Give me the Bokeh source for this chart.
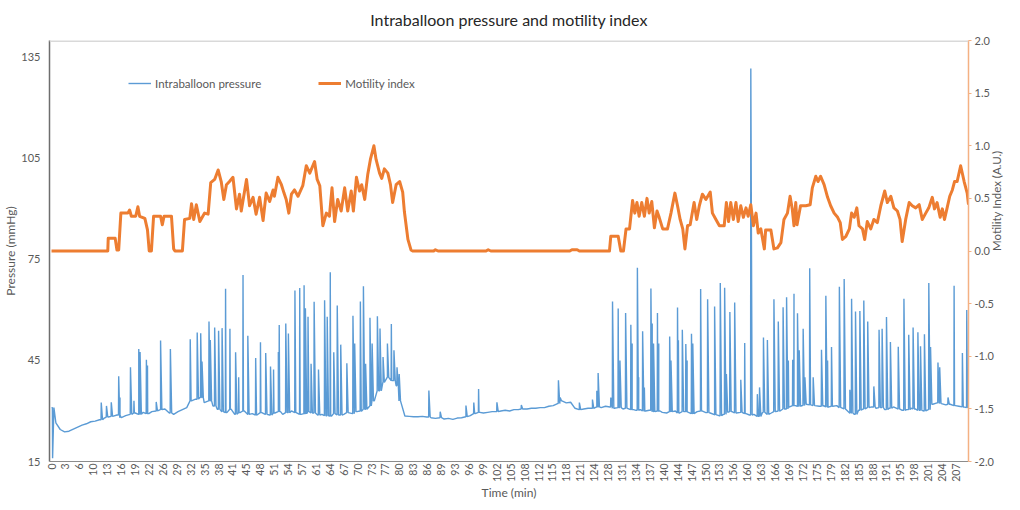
import math
from bokeh.plotting import figure
from bokeh.models import (Range1d, LinearAxis, FixedTicker, CustomJSTickFormatter,
                          NumeralTickFormatter, Span, Legend, LegendItem, ColumnDataSource)
from bokeh.embed import file_html
from bokeh.resources import INLINE

# ---------------- data ----------------
title_text = "Intraballoon pressure and motility index"

tick_labels = ["0", "3", "6", "10", "13", "16", "19", "22", "26", "29", "32", "35", "38", "41",
               "45", "48", "51", "54", "57", "61", "64", "67", "70", "73", "77", "80", "83", "86",
               "89", "93", "96", "99", "102", "105", "108", "112", "115", "118", "121", "124",
               "128", "131", "134", "137", "140", "144", "147", "150", "153", "156", "160", "163",
               "166", "169", "172", "175", "179", "182", "185", "188", "191", "195", "198", "201",
               "204", "207"]

# baseline pressure (mmHg), one value per minute, t = 0 .. 210
base_pressure = [
    31.0, 26.5, 24.5, 23.8, 24.0, 24.6, 25.2, 25.8, 26.2, 26.8,
    27.0, 27.4, 27.8, 28.2, 28.4, 28.8, 28.0, 28.6, 29.0, 29.4,
    29.0, 29.6, 29.2, 29.8, 30.0, 30.4, 30.6, 29.4, 29.0, 29.8,
    30.4, 31.0, 33.0, 33.5, 34.0, 32.5, 33.0, 31.5, 30.5, 29.8,
    29.5, 30.5, 29.0, 29.5, 30.0, 29.0, 29.2, 28.8, 29.5, 29.0,
    28.8, 29.4, 29.8, 29.0, 29.5, 30.0, 29.5, 29.0, 29.2, 29.8,
    29.4, 28.8, 29.0, 28.6, 28.5, 29.2, 28.8, 29.0, 29.5, 29.2,
    29.8, 30.0, 30.5, 31.5, 33.0, 36.0, 38.5, 40.0, 39.0, 37.5,
    33.0, 28.5, 28.4, 28.3, 28.3, 28.4, 28.2, 28.0, 27.8, 28.0,
    27.6, 27.8, 27.5, 27.9, 28.0, 28.3, 28.6, 29.2, 29.6, 29.4,
    29.6, 29.8, 29.8, 30.0, 30.2, 30.0, 30.4, 30.4, 30.6, 30.6,
    30.8, 30.8, 31.0, 31.0, 31.4, 31.6, 32.2, 33.0, 32.4, 32.6,
    30.8, 30.4, 30.6, 30.8, 30.8, 31.2, 31.0, 31.4, 31.2, 30.8,
    31.0, 30.6, 30.8, 30.4, 30.2, 30.4, 30.0, 30.2, 29.8, 30.0,
    29.6, 29.4, 29.8, 30.0, 29.4, 29.8, 29.6, 29.2, 29.8, 30.0,
    29.5, 29.4, 28.9, 28.6, 29.0, 29.6, 29.8, 29.4, 29.6, 29.2,
    28.8, 29.0, 28.4, 29.6, 29.0, 29.4, 29.8, 30.0, 30.6, 31.2,
    31.6, 31.4, 31.6, 32.0, 31.8, 31.6, 31.4, 31.6, 31.2, 31.4,
    31.6, 31.0, 30.6, 29.4, 29.0, 30.2, 30.6, 31.0, 31.2, 30.8,
    31.0, 30.4, 30.8, 31.2, 30.6, 30.2, 30.4, 30.8, 30.6, 30.2,
    30.0, 30.4, 32.0, 32.4, 32.2, 31.8, 32.0, 31.6, 31.4, 31.2,
    31.0,
]

# pressure spikes: time (min) and peak pressure (mmHg)
spike_time = [
    0.25, 11.4, 12.6, 13.7, 15.4, 15.7, 18.1, 18.9, 20.0, 20.3, 21.75, 22.0, 24.0, 25.0, 27.25,
    31.8, 33.4, 34.2, 34.5, 36.1, 36.4, 37.4, 38.3, 39.1, 39.9, 40.9, 42.2, 42.9, 43.9, 45.0,
    46.8, 47.9, 49.1, 50.2, 50.9, 52.0, 52.2, 53.7, 54.3, 55.8, 56.9, 57.9, 58.2, 58.8, 59.5,
    60.2, 61.2, 62.6, 63.2, 63.9, 64.7, 65.5, 66.3, 67.7, 69.1, 69.5, 70.8, 71.5, 72.0, 73.0,
    73.5, 74.7, 75.3, 76.0, 77.0, 77.9, 78.5, 79.2, 79.7,
    86.5, 89.1, 95.0, 96.8, 97.9, 102.1, 107.7, 116.2, 116.6, 121.0, 124.0, 125.0, 125.3,
    128.2, 128.6, 129.9, 130.3, 131.6, 132.8, 133.1, 134.3, 134.6, 135.5, 135.9, 137.4, 137.7,
    138.0, 138.9, 139.2, 141.7, 142.0, 143.5, 143.7, 144.6, 145.4, 145.7, 146.7, 147.0, 148.8,
    150.4, 152.0, 153.3, 154.3, 154.7, 155.5, 156.6, 158.0, 158.9, 160.3, 161.8, 162.3, 163.2,
    164.1, 165.6, 166.6, 167.7, 168.5, 168.9, 169.9, 170.2, 171.0, 171.4, 172.3, 172.7, 173.8,
    174.6, 176.5, 177.5, 177.9, 178.8, 180.6, 181.7, 183.0, 183.4, 184.3, 185.3, 186.2, 187.1,
    188.5, 189.7, 190.4, 191.4, 192.3, 194.1, 195.4, 196.5, 197.5, 198.6, 199.2, 200.1, 201.1,
    201.5, 203.2, 203.6, 205.5, 206.9, 208.8, 209.8,
]
spike_peak = [
    16.0, 32.5, 31.5, 32.6, 40.3, 34.0, 43.0, 33.0, 48.4, 47.5, 45.2, 43.5, 32.7, 50.9, 48.4,
    51.3, 53.3, 53.1, 44.7, 56.6, 51.1, 54.8, 53.8, 54.6, 66.3, 54.4, 47.4, 40.0, 70.4, 52.3,
    45.7, 50.4, 47.2, 43.2, 42.3, 47.5, 55.5, 56.0, 53.0, 65.8, 66.5, 67.3, 60.5, 58.0, 44.0,
    62.4, 42.3, 62.9, 58.0, 71.2, 47.4, 61.3, 49.7, 44.2, 58.3, 50.0, 62.5, 67.0, 44.0, 57.7,
    50.0, 58.1, 54.5, 46.0, 50.0, 55.8, 48.0, 43.0, 41.0,
    36.1, 29.8, 31.6, 32.5, 36.5, 32.6, 31.8, 39.1, 34.0, 32.5, 33.4, 36.0, 41.3,
    34.0, 62.5, 60.4, 45.0, 59.1, 55.6, 50.0, 72.5, 40.0, 53.7, 37.0, 66.4, 56.0,
    50.0, 59.1, 50.0, 52.1, 45.0, 60.7, 51.0, 54.1, 49.9, 45.0, 52.9, 50.0, 66.2,
    63.2, 61.0, 68.0, 66.6, 41.0, 59.4, 62.2, 39.3, 50.2, 131.7, 35.0, 37.0, 51.8,
    51.1, 63.2, 56.6, 60.8, 63.8, 45.0, 45.2, 64.8, 59.0, 48.0, 54.4, 40.0, 72.4,
    40.0, 48.2, 64.2, 45.0, 49.0, 66.9, 69.2, 36.3, 63.3, 59.5, 59.7, 62.8, 56.6,
    37.3, 54.1, 54.4, 57.9, 50.5, 49.1, 63.3, 52.6, 54.8, 53.4, 49.2, 52.8, 68.0,
    49.0, 44.4, 43.0, 34.0, 67.2, 47.2, 60.0,
]

# motility index (A.U.) : break-points, time (min) and value
motility_time = [
    0, 12.9, 13.0, 14.6, 15.0, 15.4, 15.9, 17.5, 17.9, 18.3, 19.3, 19.8, 20.2, 21.4, 22.0, 22.4,
    22.9, 23.4, 25.0, 25.4, 25.8, 27.5, 28.0, 28.3, 30.0, 30.5, 31.7, 32.1, 32.6, 33.2, 34.0,
    35.1, 35.9, 36.5, 37.4, 38.2, 38.9, 39.5, 40.1, 40.8, 41.6, 42.4, 43.1, 43.5, 44.7, 45.4,
    46.2, 46.9, 47.7, 48.5, 49.2, 50.0, 50.8, 51.1, 51.9, 52.7, 53.3, 53.8, 54.4, 55.0, 55.7,
    56.5, 57.6, 58.4, 59.2, 60.3, 60.9, 61.5, 62.2, 63.0, 63.7, 64.3, 64.9, 65.6, 66.4, 67.2,
    67.9, 68.7, 69.2, 69.9, 70.6, 71.1, 71.8, 72.5, 73.1, 73.9, 74.4, 75.2, 75.7, 76.3, 77.1,
    77.7, 78.2, 79.0, 79.8, 80.5, 80.9, 81.7, 82.4, 82.8, 87.6, 88.0, 88.6, 99.6, 100.1, 100.7,
    118.8, 119.3, 120.5, 121.0, 127.9, 128.2, 129.9, 130.5, 131.1, 131.7, 132.5, 133.2, 133.7,
    134.2, 134.7, 135.3, 135.9, 136.5, 137.0, 137.6, 138.2, 138.8, 139.3, 140.1, 141.2, 142.0,
    142.9, 143.5, 144.1, 144.7, 145.2, 145.8, 146.4, 147.3, 147.9, 148.5, 149.2, 150.0, 151.0,
    151.5, 152.3, 153.1, 154.2, 154.7, 155.2, 155.7, 156.3, 156.9, 157.4, 158.0, 158.6, 159.2,
    159.7, 160.3, 160.9, 161.5, 162.0, 162.6, 163.4, 163.7, 164.9, 165.6, 166.4, 167.2, 167.9,
    168.7, 169.3, 169.8, 170.2, 170.6, 170.9, 171.7, 172.9, 173.9, 174.4, 175.2, 175.7, 176.3,
    177.1, 177.9, 178.6, 179.4, 180.2, 180.8, 181.3, 182.1, 182.9, 183.4, 184.0, 184.6, 185.1,
    185.9, 186.4, 187.0, 187.8, 188.5, 189.3, 190.1, 191.0, 191.6, 192.4, 193.1, 193.9, 194.5,
    195.0, 195.8, 196.6, 197.3, 198.1, 198.9, 199.6, 200.4, 201.1, 201.9, 202.4, 203.0, 203.7,
    204.2, 204.7, 205.3, 205.9, 206.5, 207.0, 207.6, 208.4, 209.2, 209.9, 210.2,
]
motility_value = [
    0.0, 0.0, 0.12, 0.12, 0.01, 0.01, 0.36, 0.36, 0.39, 0.33, 0.33, 0.42, 0.33, 0.31, 0.20, 0.0,
    0.0, 0.33, 0.33, 0.25, 0.33, 0.33, 0.02, 0.0, 0.0, 0.30, 0.31, 0.45, 0.30, 0.44, 0.28,
    0.36, 0.35, 0.65, 0.68, 0.77, 0.66, 0.49, 0.63, 0.66, 0.70, 0.40, 0.54, 0.38, 0.68, 0.43,
    0.51, 0.35, 0.51, 0.29, 0.55, 0.47, 0.58, 0.52, 0.70, 0.63, 0.55, 0.49, 0.36, 0.54, 0.58,
    0.52, 0.62, 0.81, 0.74, 0.85, 0.68, 0.62, 0.24, 0.36, 0.33, 0.60, 0.28, 0.49, 0.38, 0.60,
    0.38, 0.57, 0.38, 0.70, 0.57, 0.63, 0.49, 0.73, 0.87, 1.00, 0.87, 0.74, 0.69, 0.78, 0.74,
    0.63, 0.46, 0.63, 0.66, 0.56, 0.37, 0.11, 0.01, 0.0, 0.0, 0.012, 0.0, 0.0, 0.012, 0.0,
    0.0, 0.012, 0.012, 0.0, 0.0, 0.14, 0.14, 0.0, 0.0, 0.21, 0.21, 0.48, 0.36,
    0.46, 0.33, 0.46, 0.33, 0.50, 0.36, 0.47, 0.22, 0.38, 0.32, 0.21, 0.21, 0.36,
    0.55, 0.43, 0.30, 0.21, 0.02, 0.24, 0.25, 0.46, 0.30, 0.43, 0.54, 0.49, 0.56,
    0.36, 0.30, 0.24, 0.24, 0.46, 0.28, 0.46, 0.30, 0.46, 0.28, 0.43, 0.32, 0.41,
    0.33, 0.44, 0.24, 0.36, 0.17, 0.21, 0.02, 0.20, 0.20, 0.02, 0.03, 0.08, 0.30,
    0.36, 0.52, 0.40, 0.24, 0.46, 0.25, 0.43, 0.43, 0.44, 0.60, 0.71, 0.66, 0.71,
    0.63, 0.51, 0.43, 0.36, 0.32, 0.27, 0.11, 0.14, 0.21, 0.36, 0.32, 0.41, 0.24,
    0.21, 0.11, 0.28, 0.21, 0.30, 0.27, 0.43, 0.57, 0.46, 0.52, 0.41, 0.38, 0.30,
    0.09, 0.30, 0.46, 0.43, 0.41, 0.44, 0.30, 0.36, 0.41, 0.51, 0.40, 0.46, 0.32,
    0.40, 0.30, 0.41, 0.52, 0.58, 0.66, 0.66, 0.81, 0.66, 0.55, 0.44,
]

left_ticks = [15, 45, 75, 105, 135]
right_ticks = [-2.0, -1.5, -1.0, -0.5, 0.0, 0.5, 1.0, 1.5, 2.0]

# ---------------- build pressure trace ----------------
pts = [(float(t), v) for t, v in enumerate(base_pressure)]
for t, pk in zip(spike_time, spike_peak):
    b = base_pressure[int(round(t))]
    pts.append((t - 0.05, b))
    pts.append((t, pk))
    pts.append((t + 0.3, b))
pts.sort(key=lambda q: q[0])
press_src = ColumnDataSource(dict(t=[q[0] for q in pts], p=[q[1] for q in pts]))
mi_src = ColumnDataSource(dict(t=motility_time, v=motility_value))

# ---------------- figure ----------------
FONT = "Lato"
GREY = "#595959"
p = figure(width=1012, height=502, output_backend="svg", toolbar_location=None,
           x_range=Range1d(-0.46, 210.2), y_range=Range1d(15, 140),
           min_border_left=38, min_border_right=40, min_border_top=34, min_border_bottom=40)
p.extra_y_ranges = {"mi": Range1d(-2.0, 2.0)}
p.outline_line_color = None
p.grid.visible = False

p.title.text = title_text
p.title.align = "center"
p.title.text_font = FONT
p.title.text_font_size = "16px"
p.title.text_font_style = "normal"
p.title.text_color = "#262626"
p.title.vertical_align = "top"
p.title.text_line_height = 1.0
p.title.standoff = 19

# x axis
step = 3.19
xa = p.xaxis[0]
xa.ticker = FixedTicker(ticks=[i * step for i in range(len(tick_labels))])
xa.formatter = CustomJSTickFormatter(args=dict(labels=tick_labels, step=step),
                                     code="return labels[Math.round(tick/step)];")
xa.major_label_orientation = math.pi / 2
xa.axis_label = "Time (min)"
xa.axis_line_color = "#8c8c8c"
xa.major_tick_line_color = None
xa.major_tick_in = 0
xa.major_tick_out = 0
xa.minor_tick_line_color = None
xa.minor_tick_out = 0
xa.major_label_text_font = FONT
xa.major_label_text_font_size = "10.5px"
xa.major_label_text_color = GREY
xa.major_label_standoff = 2
xa.axis_label_text_font = FONT
xa.axis_label_text_font_size = "12px"
xa.axis_label_text_font_style = "normal"
xa.axis_label_text_color = GREY
xa.axis_label_standoff = 0

# left axis
ya = p.yaxis[0]
ya.ticker = FixedTicker(ticks=left_ticks)
ya.axis_label = "Pressure (mmHg)"
ya.axis_line_color = "#6e6e6e"
ya.axis_line_width = 1.5
ya.major_tick_line_color = None
ya.major_tick_in = 0
ya.major_tick_out = 0
ya.minor_tick_line_color = None
ya.minor_tick_out = 0
ya.major_label_text_font = FONT
ya.major_label_text_font_size = "11px"
ya.major_label_text_color = GREY
ya.major_label_standoff = 9
ya.axis_label_text_font = FONT
ya.axis_label_text_font_size = "12px"
ya.axis_label_text_font_style = "normal"
ya.axis_label_text_color = GREY
ya.axis_label_standoff = 0

# right axis
ra = LinearAxis(y_range_name="mi", ticker=FixedTicker(ticks=right_ticks),
                formatter=NumeralTickFormatter(format="0.0"),
                axis_label="Motility Index (A.U.)")
ra.axis_line_color = "#f4b183"
ra.axis_line_width = 1.5
ra.major_tick_line_color = "#f4b183"
ra.major_tick_in = 0
ra.major_tick_out = 3
ra.minor_tick_line_color = None
ra.minor_tick_out = 0
ra.major_label_text_font = FONT
ra.major_label_text_font_size = "11px"
ra.major_label_text_color = GREY
ra.major_label_standoff = 3
ra.axis_label_text_font = FONT
ra.axis_label_text_font_size = "11.5px"
ra.axis_label_text_font_style = "normal"
ra.axis_label_text_color = GREY
ra.axis_label_standoff = 0
if "axis_label_orientation" in ra.properties():
    ra.axis_label_orientation = math.pi / 2
p.add_layout(ra, "right")

# top border line
p.add_layout(Span(location=140, dimension="width", line_color="#d9d9d9", line_width=3))

r_p = p.line("t", "p", source=press_src, line_color="#5b9bd5", line_width=1.4)
r_m = p.line("t", "v", source=mi_src, y_range_name="mi", line_color="#ed7d31",
             line_width=3, line_join="round")

legend = Legend(items=[LegendItem(label="Intraballoon pressure", renderers=[r_p]),
                       LegendItem(label="Motility index", renderers=[r_m])],
                orientation="horizontal", location=(79, 370),
                border_line_color=None, background_fill_alpha=0,
                label_text_font=FONT, label_text_font_size="11.5px", label_text_color=GREY,
                glyph_width=23, glyph_height=16, spacing=57, padding=0, margin=0,
                label_standoff=4)
p.add_layout(legend)

open("out.html", "w").write(file_html(p, INLINE, title=title_text))
